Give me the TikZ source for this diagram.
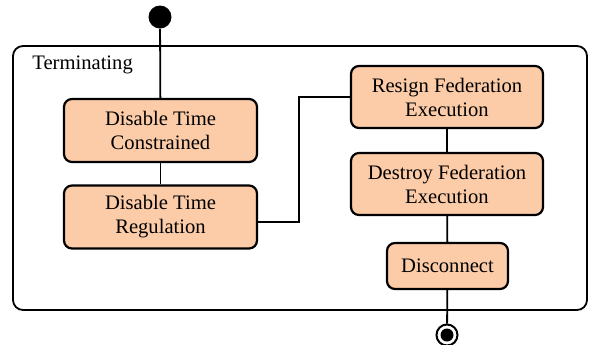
\documentclass[tikz,border=0pt]{standalone}
\usepackage{fontspec}
\setmainfont{Liberation Serif}
\newfontfamily\labelfont{Liberation Serif}
\begin{document}
\begin{tikzpicture}[x=0.5pt,y=-0.5pt,
  every node/.style={font=\labelfont\fontsize{10.3}{12}\selectfont},
  action/.style={draw=black, line width=1.1pt, fill=actfill, rounded corners=4pt,
    align=center, inner sep=0pt},
  wire/.style={line width=0.9pt}]
\definecolor{actfill}{RGB}{252,204,168}
\useasboundingbox (0,0) rectangle (590,344);
% enclosing composite state
\draw[line width=0.9pt, rounded corners=5pt] (13,46) rectangle (587,310);
\node[anchor=west, inner sep=0pt] (title) at (32,65) {Terminating};
% initial and final pseudostates
\node[circle, fill=black, inner sep=0pt, minimum size=11.5pt] (init) at (160,17) {};
\node[circle, draw=black, fill=white, line width=1pt, inner sep=0pt, minimum size=10.5pt] (fin) at (447,335) {};
\fill[black] (fin.center) circle (6.5);
% actions
\node[action, minimum width=96.5pt, minimum height=31.5pt] (dtc) at (160.5,130.5) {Disable Time\\Constrained};
\node[action, minimum width=96.5pt, minimum height=31.5pt] (dtr) at (160.5,217) {Disable Time\\Regulation};
\node[action, minimum width=96pt, minimum height=31pt] (rfe) at (447,97) {Resign Federation\\Execution};
\node[action, minimum width=96pt, minimum height=31pt] (dfe) at (447,184) {Destroy Federation\\Execution};
\node[action, minimum width=60.5pt, minimum height=23pt] (dis) at (447.5,266) {Disconnect};
% transitions
\draw[wire] (init) -- (dtc);
\draw[wire] (dtc) -- (dtr);
\coordinate (bend) at (299,222);
\draw[wire] (dtr.east |- bend) -- (bend) |- (rfe.west);
\draw[wire] (rfe) -- (dfe);
\draw[wire] (dfe) -- (dis);
\draw[wire] (dis) -- (fin);
\end{tikzpicture}
\end{document}
